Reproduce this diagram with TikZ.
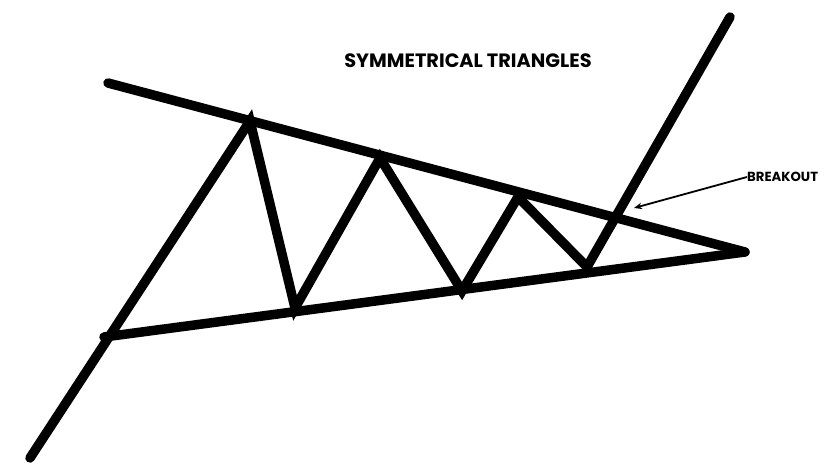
\documentclass[tikz,border=0pt]{standalone}
\usepackage{fontspec}
\setmainfont{Poppins}
\usetikzlibrary{positioning,arrows.meta}

\begin{document}
\begin{tikzpicture}[
    x=1pt, y=-1pt,
    trendLine/.style={line width=9.5pt, line cap=round, line join=round, draw=black},
    priceLine/.style={line width=9.5pt, line cap=round, line join=miter, draw=black},
    titleText/.style={font=\fontsize{19.3}{22}\selectfont\bfseries, inner sep=0pt},
    labelText/.style={font=\fontsize{13.2}{15}\selectfont\bfseries, inner sep=0pt, anchor=west},
    arrowStyle/.style={-{Stealth[length=8pt,width=6.5pt]}, line width=1.8pt, draw=black}
]
    \useasboundingbox (0,0) rectangle (825,465);

    % apex and trend lines
    \coordinate (apex) at (745,252);
    \coordinate (upStart) at (108,83);
    \coordinate (lowStart) at (104,337);
    \draw[trendLine] (upStart) -- (apex);
    \draw[trendLine] (lowStart) -- (apex);

    % price swings
    \coordinate (p0) at (30,458);
    \coordinate (h1) at (250,121);
    \coordinate (l1) at (295,308);
    \coordinate (h2) at (380,158);
    \coordinate (l2) at (462,291);
    \coordinate (h3) at (518,197);
    \coordinate (l3) at (587,267);
    \coordinate (p1) at (730,17);
    \draw[priceLine] (p0) -- (h1) -- (l1) -- (h2) -- (l2) -- (h3) -- (l3) -- (p1);

    \node[titleText] (title) at (468,61) {SYMMETRICAL TRIANGLES};
    \node[labelText] (breakout) at (747,177) {BREAKOUT};
    \coordinate (hit) at (634,208);
    \draw[arrowStyle] (breakout.west) -- (hit);
\end{tikzpicture}
\end{document}
